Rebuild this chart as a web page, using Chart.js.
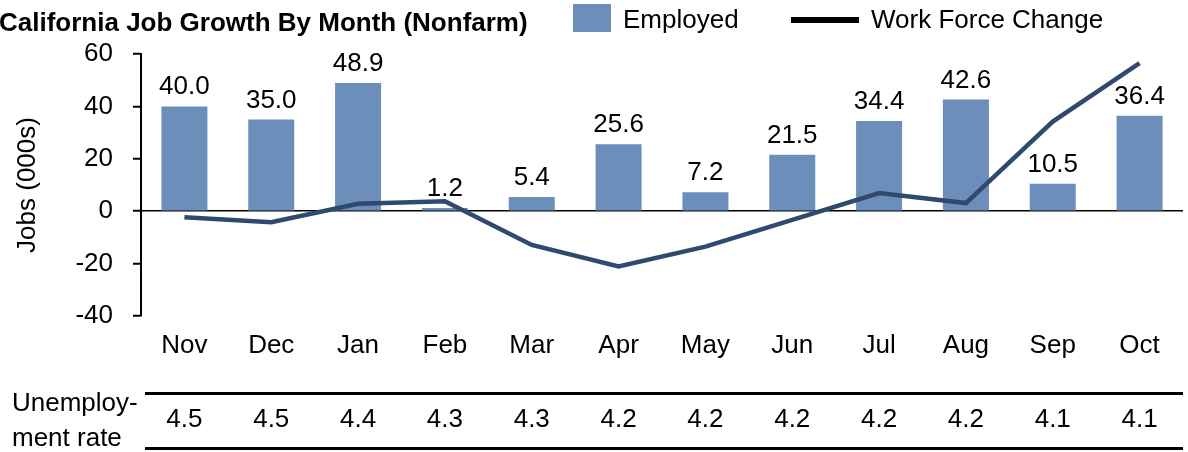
<!DOCTYPE html>
<html>
<head>
<meta charset="utf-8">
<script src="https://cdn.jsdelivr.net/npm/chart.js@4.4.1/dist/chart.umd.min.js"></script>
<style>
    html, body { margin: 0; padding: 0; background: #fff; }
    #chart { display: block; }
</style>
</head>
<body>
<canvas id="chart" width="1188" height="452"></canvas>
<script>
// Данные графика
const months = ['Nov', 'Dec', 'Jan', 'Feb', 'Mar', 'Apr', 'May', 'Jun', 'Jul', 'Aug', 'Sep', 'Oct'];
const employed = [40.0, 35.0, 48.9, 1.2, 5.4, 25.6, 7.2, 21.5, 34.4, 42.6, 10.5, 36.4];
const workForceChange = [-2.3, -4.2, 2.8, 3.8, -12.9, -21.1, -13.5, -3.3, 6.9, 3.1, 34.2, 56.5];
const unemploymentRate = ['4.5', '4.5', '4.4', '4.3', '4.3', '4.2', '4.2', '4.2', '4.2', '4.2', '4.1', '4.1'];
const yTicks = [-40, -20, 0, 20, 40, 60];

const FONT = 'Arial, "Liberation Sans", sans-serif';
const BAR_COLOR = '#6C8EBB';
const LINE_COLOR = '#2F4A6E';

// Подписи значений над столбцами
const barLabels = {
    id: 'barLabels',
    afterDatasetsDraw(chart) {
        const ctx = chart.ctx;
        const meta = chart.getDatasetMeta(0);
        ctx.save();
        ctx.font = '26px ' + FONT;
        ctx.fillStyle = '#000';
        ctx.textAlign = 'center';
        ctx.textBaseline = 'alphabetic';
        meta.data.forEach((bar, i) => {
            ctx.fillText(employed[i].toFixed(1), bar.x, bar.y - 12);
        });
        ctx.restore();
    }
};

// Заголовок, легенда и таблица уровня безработицы
const extras = {
    id: 'extras',
    afterDraw(chart) {
        const ctx = chart.ctx;
        const x = chart.scales.x;
        ctx.save();
        ctx.fillStyle = '#000';
        ctx.textBaseline = 'alphabetic';

        ctx.font = 'bold 26px ' + FONT;
        ctx.textAlign = 'left';
        ctx.fillText('California Job Growth By Month (Nonfarm)', -1, 31);

        ctx.fillStyle = BAR_COLOR;
        ctx.fillRect(573, 4, 38, 28);
        ctx.fillStyle = '#000';
        ctx.font = '26px ' + FONT;
        ctx.fillText('Employed', 623, 28);
        ctx.fillRect(791, 17, 68, 6);
        ctx.fillText('Work Force Change', 871, 28);

        ctx.fillRect(145, 392, 1038, 3);
        ctx.fillRect(145, 447, 1038, 3);
        ctx.fillText('Unemploy-', 12, 411);
        ctx.fillText('ment rate', 12, 446);
        ctx.textAlign = 'center';
        unemploymentRate.forEach((v, i) => {
            ctx.fillText(v, x.getPixelForValue(i), 427);
        });
        ctx.restore();
    }
};

new Chart(document.getElementById('chart'), {
    data: {
        labels: months,
        datasets: [
            {
                type: 'bar',
                label: 'Employed',
                data: employed,
                backgroundColor: BAR_COLOR,
                barPercentage: 0.53,
                categoryPercentage: 1,
                order: 1
            },
            {
                type: 'line',
                label: 'Work Force Change',
                data: workForceChange,
                borderColor: LINE_COLOR,
                borderWidth: 4.5,
                pointRadius: 0,
                tension: 0,
                fill: false,
                order: 0
            }
        ]
    },
    options: {
        responsive: false,
        animation: false,
        devicePixelRatio: 1,
        layout: { padding: { top: 54, right: 5, left: 0, bottom: 0 } },
        plugins: {
            legend: { display: false },
            tooltip: { enabled: false }
        },
        scales: {
            x: {
                grid: { display: false, drawTicks: false },
                border: { display: false },
                ticks: { color: '#000', font: { family: FONT, size: 26 }, padding: 14, maxRotation: 0 },
                afterFit: s => { s.height = 136; }
            },
            y: {
                min: -40,
                max: 60,
                afterBuildTicks: s => { s.ticks = yTicks.map(v => ({ value: v })); },
                ticks: { color: '#000', font: { family: FONT, size: 26 }, padding: 20 },
                grid: {
                    color: c => c.tick && c.tick.value === 0 ? '#000' : 'transparent',
                    lineWidth: 1.5,
                    tickLength: 8,
                    tickColor: '#000',
                    tickWidth: 2
                },
                border: { color: '#000', width: 2 },
                title: {
                    display: true,
                    text: 'Jobs (000s)',
                    color: '#000',
                    font: { family: FONT, size: 26 },
                    padding: { top: 12, bottom: 0 }
                },
                afterFit: s => { s.width = 141; }
            }
        }
    },
    plugins: [barLabels, extras]
});
</script>
</body>
</html>
